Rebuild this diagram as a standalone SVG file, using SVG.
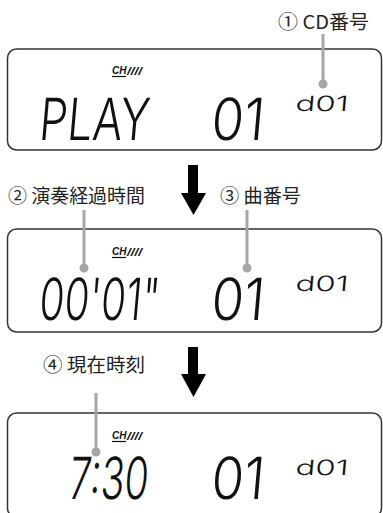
<svg xmlns="http://www.w3.org/2000/svg" width="383" height="513" viewBox="0 0 383 513">
<style>
.panel{fill:#fff;stroke:#333;stroke-width:1.5}
.label{font-family:"Noto Sans CJK JP","DejaVu Sans",sans-serif;font-size:19px;fill:#222}
.lcd{font-family:Inter,"Noto Sans",sans-serif;font-weight:300;font-size:58px;fill:#111}
.lcds{font-family:Inter,"Noto Sans",sans-serif;font-weight:300;font-size:21px;fill:#111}
.ch{font-family:"Liberation Sans",Arial,sans-serif;font-size:10px;font-weight:bold;font-style:italic;fill:#111}
.lead{stroke:#a6a6a6;stroke-width:3;fill:none}
.dot{fill:#a6a6a6}
.arrow{fill:#000}
</style>
<rect width="383" height="513" fill="#fff"/>
<g id="connectors">
  <g id="arrow1"><rect class="arrow" x="188" y="165" width="10" height="29"/><polygon class="arrow" points="181,193 206,193 193.5,215"/></g>
  <g id="arrow2"><rect class="arrow" x="188" y="347" width="10" height="28"/><polygon class="arrow" points="181,374 206,374 193.5,397"/></g>
</g>
<g id="panel1">
  <rect class="panel" x="7.5" y="49" width="374" height="101" rx="9"/>
  <text class="ch" x="112" y="74">CH</text><line x1="112" y1="76.5" x2="126" y2="76.5" stroke="#111" stroke-width="1.2"/>
  <text class="ch" x="127" y="75" font-size="8" textLength="15" lengthAdjust="spacingAndGlyphs">////</text>
  <text class="lcd" x="38" y="140" textLength="110" lengthAdjust="spacingAndGlyphs" transform="translate(12.25 0) skewX(-5)">PLAY</text>
  <text class="lcd" x="210" y="140" textLength="53" lengthAdjust="spacingAndGlyphs" transform="translate(12.25 0) skewX(-5)">01</text>
  <text class="lcds" x="295" y="111" textLength="53" lengthAdjust="spacingAndGlyphs" transform="translate(9.71 0) skewX(-5)">d01</text>
</g>
<g id="panel2">
  <rect class="panel" x="7.5" y="229" width="374" height="103" rx="9"/>
  <text class="ch" x="112" y="255">CH</text><line x1="112" y1="257.5" x2="126" y2="257.5" stroke="#111" stroke-width="1.2"/>
  <text class="ch" x="127" y="256" font-size="8" textLength="15" lengthAdjust="spacingAndGlyphs">////</text>
  <text class="lcd" x="38" y="320" textLength="120" lengthAdjust="spacingAndGlyphs" transform="translate(28 0) skewX(-5)">00'01"</text>
  <text class="lcd" x="210" y="320" textLength="53" lengthAdjust="spacingAndGlyphs" transform="translate(28 0) skewX(-5)">01</text>
  <text class="lcds" x="295" y="291" textLength="53" lengthAdjust="spacingAndGlyphs" transform="translate(25.46 0) skewX(-5)">d01</text>
</g>
<g id="panel3">
  <rect class="panel" x="7.5" y="413" width="374" height="104" rx="9"/>
  <text class="ch" x="112" y="439">CH</text><line x1="112" y1="441.5" x2="126" y2="441.5" stroke="#111" stroke-width="1.2"/>
  <text class="ch" x="127" y="440" font-size="8" textLength="15" lengthAdjust="spacingAndGlyphs">////</text>
  <text class="lcd" x="68" y="499" font-size="52" textLength="79" lengthAdjust="spacingAndGlyphs" transform="translate(43.66 0) skewX(-5)">7:30</text>
  <text class="lcd" x="210" y="499" font-size="52" textLength="53" lengthAdjust="spacingAndGlyphs" transform="translate(43.66 0) skewX(-5)">01</text>
  <text class="lcds" x="295" y="475" textLength="53" lengthAdjust="spacingAndGlyphs" transform="translate(41.56 0) skewX(-5)">d01</text>
</g>
<g id="label1">
  <line class="lead" x1="323" y1="34" x2="323" y2="84"/><circle class="dot" cx="323" cy="84" r="4.5"/>
  <text class="label" x="278" y="29" textLength="91" lengthAdjust="spacingAndGlyphs">① CD番号</text>
</g>
<g id="label2">
  <line class="lead" x1="84" y1="210" x2="84" y2="268"/><circle class="dot" cx="84" cy="268" r="4.5"/>
  <text class="label" x="8" y="203" textLength="137" lengthAdjust="spacingAndGlyphs">② 演奏経過時間</text>
</g>
<g id="label3">
  <line class="lead" x1="247" y1="210" x2="247" y2="268"/><circle class="dot" cx="247" cy="268" r="4.5"/>
  <text class="label" x="220" y="203" textLength="81" lengthAdjust="spacingAndGlyphs">③ 曲番号</text>
</g>
<g id="label4">
  <line class="lead" x1="96" y1="393" x2="96" y2="452"/><circle class="dot" cx="96" cy="452" r="4.5"/>
  <text class="label" x="43" y="372" textLength="102" lengthAdjust="spacingAndGlyphs">④ 現在時刻</text>
</g>
</svg>
